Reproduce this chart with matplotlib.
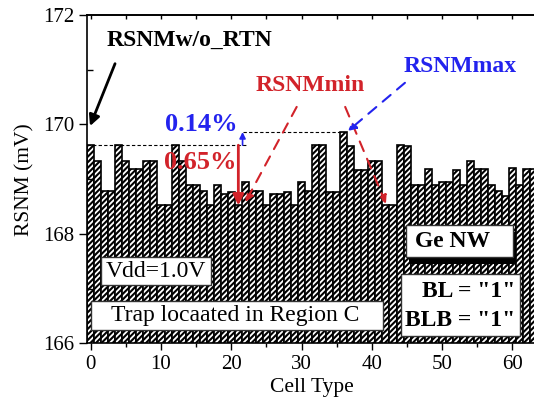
"""RSNM por tipo de celula com RTN (Ge NW, trap na regiao C)."""
import matplotlib

matplotlib.use("Agg")
import matplotlib.pyplot as plt
import numpy as np
from matplotlib.patches import Rectangle
from matplotlib.ticker import MultipleLocator

plt.rcParams["font.family"] = ["Liberation Serif", "DejaVu Serif"]
plt.rcParams["hatch.linewidth"] = 1.5
plt.rcParams["axes.linewidth"] = 1.2

# RSNM (mV) de cada tipo de celula
cell_type = np.arange(64)
rsnm = [169.62, 169.34, 168.79, 168.79, 169.62, 169.34, 169.18, 169.18, 169.34, 169.34,
        168.52, 168.52, 169.62, 169.34, 168.89, 168.89, 168.79, 168.52, 168.89, 168.72,
        168.77, 168.52, 168.94, 168.79, 168.79, 168.52, 168.73, 168.73, 168.77, 168.52,
        168.94, 168.79, 169.62, 169.62, 168.77, 168.77, 169.86, 169.60, 169.16, 169.16,
        169.34, 169.34, 168.52, 168.52, 169.62, 169.60, 168.89, 168.89, 169.18, 168.89,
        168.94, 168.94, 169.16, 168.89, 169.34, 169.18, 169.18, 168.90, 168.79, 168.70,
        169.21, 168.89, 169.18, 169.18]
rsnm_sem_rtn = 169.62
i_min = 21
i_max = 36

RED = "#d2232a"
BLUE = "#2323ee"

rsnm = np.array(rsnm)
queda = (rsnm_sem_rtn - rsnm[i_min]) / rsnm_sem_rtn * 100
ganho = (rsnm[i_max] - rsnm_sem_rtn) / rsnm_sem_rtn * 100

fig = plt.figure(figsize=(5.34, 4.08), dpi=100)
ax = fig.add_axes([0.1633, 0.1586, 0.8425, 0.8047])

ax.bar(cell_type, rsnm, width=1.0, color="white", edgecolor="black",
       linewidth=1.2, hatch="//////")

ax.set_xlim(-0.5, 63.5)
ax.set_ylim(166, 172)
ax.xaxis.set_major_locator(MultipleLocator(10))
ax.xaxis.set_minor_locator(MultipleLocator(5))
ax.yaxis.set_major_locator(MultipleLocator(2))
ax.yaxis.set_minor_locator(MultipleLocator(1))
ax.tick_params(axis="x", which="major", direction="out", length=5, width=1, labelsize=15)
ax.tick_params(axis="x", which="minor", direction="out", length=3, width=1)
ax.tick_params(axis="y", which="major", direction="out", length=6, width=1, labelsize=15)
ax.tick_params(axis="y", which="minor", direction="in", length=4, width=1)
ax.spines["right"].set_visible(False)
topo = ax.secondary_xaxis("top")
topo.set_xticks(np.arange(0, 64, 5))
topo.tick_params(direction="in", length=3, width=1, labeltop=False)
ax.set_xlabel("Cell Type", fontsize=15.5, labelpad=3)
ax.set_ylabel("RSNM (mV)", fontsize=15.5, labelpad=6)

# linhas de referencia (sem RTN e maximo)
ax.plot([-0.5, 22.4], [rsnm_sem_rtn, rsnm_sem_rtn], color="black", lw=0.8,
        linestyle=(0, (3, 2)))
ax.plot([21.6, i_max], [rsnm[i_max], rsnm[i_max]], color="black", lw=0.8,
        linestyle=(0, (3, 2)))

# setas de variacao
ax.annotate("", xy=(21.0, rsnm[i_min]), xytext=(21.0, rsnm_sem_rtn),
            arrowprops=dict(arrowstyle="-|>", color=RED, lw=2, mutation_scale=16,
                            shrinkA=0, shrinkB=0))
ax.annotate("", xy=(21.6, rsnm[i_max]), xytext=(21.6, rsnm_sem_rtn),
            arrowprops=dict(arrowstyle="-|>", color=BLUE, lw=1.2, mutation_scale=9,
                            shrinkA=0, shrinkB=0))
ax.text(20.9, 169.99, f"{ganho:.2f}%", color=BLUE, fontsize=19, fontweight="bold",
        ha="right", va="center")
ax.text(20.75, 169.30, f"{queda:.2f}%", color=RED, fontsize=19, fontweight="bold",
        ha="right", va="center")

# rotulos com setas
ax.text(2.3, 171.54, "RSNMw/o_RTN", fontsize=17, fontweight="bold", ha="left",
        va="center")
ax.annotate("", xy=(-0.1, 169.97), xytext=(3.46, 171.11),
            arrowprops=dict(arrowstyle="-|>", color="black", lw=2, mutation_scale=16,
                            shrinkA=0, shrinkB=0))
ax.text(31.2, 170.71, "RSNMmin", color=RED, fontsize=17, fontweight="bold",
        ha="center", va="center")
ax.text(52.5, 171.06, "RSNMmax", color=BLUE, fontsize=17, fontweight="bold",
        ha="center", va="center")
traco = dict(lw=1.5, shrinkA=0, shrinkB=0, mutation_scale=12)
ax.annotate("", xy=(22.0, 168.58), xytext=(29.3, 170.32),
            arrowprops=dict(arrowstyle="-|>", color=RED, linestyle=(0, (5, 4)), **traco))
ax.annotate("", xy=(42.0, 168.55), xytext=(36.2, 170.32),
            arrowprops=dict(arrowstyle="-|>", color=RED, linestyle=(0, (5, 4)), **traco))
ax.annotate("", xy=(36.6, 169.88), xytext=(44.7, 170.76),
            arrowprops=dict(arrowstyle="-|>", color=BLUE, linestyle=(0, (5, 4)), **traco))

# caixas de condicoes
caixa = dict(facecolor="white", edgecolor="#333333", lw=1.0, zorder=4)
ax.add_patch(Rectangle((1.48, 167.06), 15.65, 0.51, **caixa))
ax.text(9.3, 167.32, "Vdd=1.0V", fontsize=17, ha="center", va="center", zorder=5)
ax.add_patch(Rectangle((0.04, 166.25), 41.5, 0.53, **caixa))
ax.text(20.6, 166.51, "Trap locaated in Region C", fontsize=17, ha="center",
        va="center", zorder=5)
ax.add_patch(Rectangle((45.3, 167.45), 15.2, 0.59, facecolor="black", lw=0, zorder=4))
ax.add_patch(Rectangle((44.85, 167.57), 15.2, 0.59, **caixa))
ax.text(51.5, 167.86, "Ge NW", fontsize=17, fontweight="bold", ha="center",
        va="center", zorder=5)
ax.add_patch(Rectangle((44.17, 166.13), 16.9, 1.13, **caixa))
ax.text(60.35, 166.94, 'BL = "1"', fontsize=17, fontweight="bold", ha="right",
        va="center", zorder=5)
ax.text(60.35, 166.41, 'BLB = "1"', fontsize=17, fontweight="bold", ha="right",
        va="center", zorder=5)

fig.savefig("out.png", dpi=100)
